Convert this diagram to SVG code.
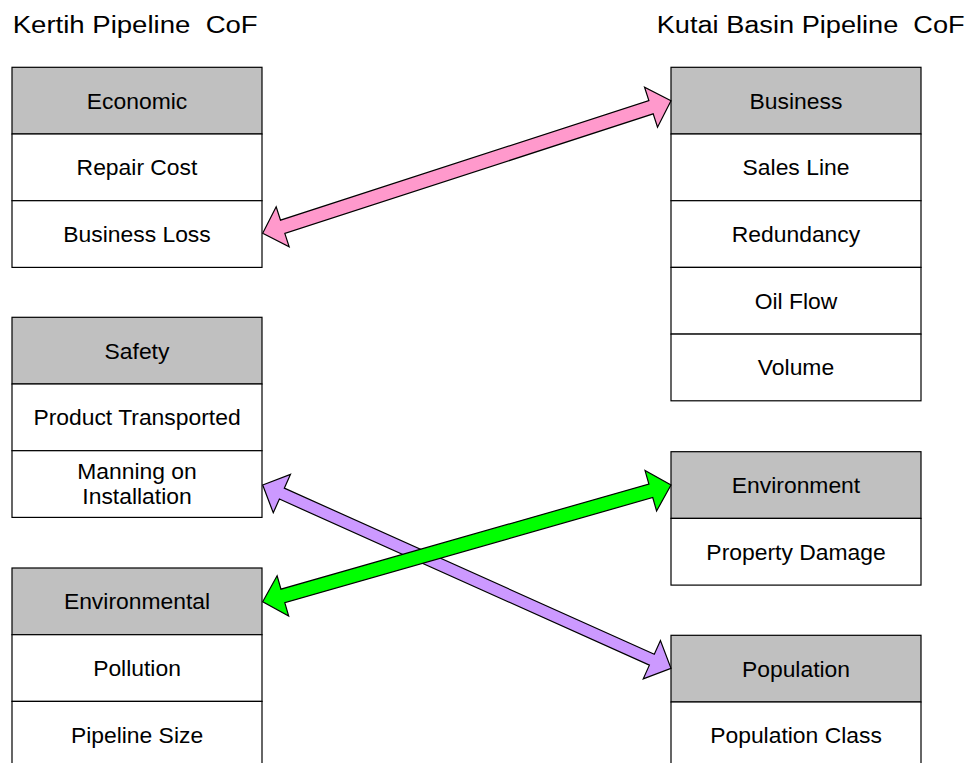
<svg xmlns="http://www.w3.org/2000/svg" width="974" height="763" viewBox="0 0 974 763">
  <style>
    text { font-family: "Liberation Sans", Arial, sans-serif; fill: #000; }
    .title { font-size: 23px; white-space: pre; }
    .cell { font-size: 22px; text-anchor: middle; }
    .hdr { fill: #c0c0c0; stroke: #000; stroke-width: 1.2; }
    .row { fill: #fff; stroke: #000; stroke-width: 1.2; }
    .arrow { stroke: #000; stroke-width: 1.2; stroke-linejoin: miter; }
  </style>
  <rect width="974" height="763" fill="#fff"/>

  <!-- column titles -->
  <text class="title" x="12.7" y="33" textLength="245" lengthAdjust="spacingAndGlyphs" xml:space="preserve">Kertih Pipeline  CoF</text>
  <text class="title" x="656.7" y="33" textLength="308" lengthAdjust="spacingAndGlyphs" xml:space="preserve">Kutai Basin Pipeline  CoF</text>

  <!-- Kertih categories -->
  <g id="economic">
    <rect class="hdr" x="12" y="67.3" width="250" height="66.7"/>
    <rect class="row" x="12" y="134" width="250" height="66.7"/>
    <rect class="row" x="12" y="200.7" width="250" height="66.7"/>
    <text class="cell" transform="translate(137,108.5) scale(1.04,1)">Economic</text>
    <text class="cell" transform="translate(137,175.2) scale(1.04,1)">Repair Cost</text>
    <text class="cell" transform="translate(137,241.9) scale(1.04,1)">Business Loss</text>
  </g>

  <g id="safety">
    <rect class="hdr" x="12" y="317.3" width="250" height="66.7"/>
    <rect class="row" x="12" y="384" width="250" height="66.7"/>
    <rect class="row" x="12" y="450.7" width="250" height="66.7"/>
    <text class="cell" transform="translate(137,358.5) scale(1.04,1)">Safety</text>
    <text class="cell" transform="translate(137,425.2) scale(1.04,1)">Product Transported</text>
    <text class="cell" transform="translate(137,479) scale(1.04,1)">Manning on</text>
    <text class="cell" transform="translate(137,503.5) scale(1.04,1)">Installation</text>
  </g>

  <g id="environmental">
    <rect class="hdr" x="12" y="568" width="250" height="66.7"/>
    <rect class="row" x="12" y="634.7" width="250" height="66.7"/>
    <rect class="row" x="12" y="701.4" width="250" height="66.7"/>
    <text class="cell" transform="translate(137,609.2) scale(1.04,1)">Environmental</text>
    <text class="cell" transform="translate(137,675.9) scale(1.04,1)">Pollution</text>
    <text class="cell" transform="translate(137,742.6) scale(1.04,1)">Pipeline Size</text>
  </g>

  <!-- Kutai Basin categories -->
  <g id="business">
    <rect class="hdr" x="671" y="67.3" width="250" height="66.7"/>
    <rect class="row" x="671" y="134" width="250" height="66.7"/>
    <rect class="row" x="671" y="200.7" width="250" height="66.7"/>
    <rect class="row" x="671" y="267.4" width="250" height="66.7"/>
    <rect class="row" x="671" y="334.1" width="250" height="66.7"/>
    <text class="cell" transform="translate(796,108.5) scale(1.04,1)">Business</text>
    <text class="cell" transform="translate(796,175.2) scale(1.04,1)">Sales Line</text>
    <text class="cell" transform="translate(796,241.9) scale(1.04,1)">Redundancy</text>
    <text class="cell" transform="translate(796,308.6) scale(1.04,1)">Oil Flow</text>
    <text class="cell" transform="translate(796,375.3) scale(1.04,1)">Volume</text>
  </g>

  <g id="environment">
    <rect class="hdr" x="671" y="451.7" width="250" height="66.7"/>
    <rect class="row" x="671" y="518.4" width="250" height="66.7"/>
    <text class="cell" transform="translate(796,492.9) scale(1.04,1)">Environment</text>
    <text class="cell" transform="translate(796,559.6) scale(1.04,1)">Property Damage</text>
  </g>

  <g id="population">
    <rect class="hdr" x="671" y="635.3" width="250" height="66.7"/>
    <rect class="row" x="671" y="702" width="250" height="66.7"/>
    <text class="cell" transform="translate(796,676.5) scale(1.04,1)">Population</text>
    <text class="cell" transform="translate(796,743.2) scale(1.04,1)">Population Class</text>
  </g>

  <!-- two-way links between the category sets -->
  <g id="connectors">
    <polygon class="arrow" fill="#ff99cc" points="262.7,233.3 276.18,206.84 280.51,220.15 648.87,100.53 644.54,87.22 671,100.7 657.52,127.16 653.19,113.85 284.83,233.47 289.16,246.78"/>
    <polygon class="arrow" fill="#cc99ff" points="262.7,485 290.46,474.44 284.32,488.13 654.3,654.23 660.44,640.54 671,668.3 643.24,678.86 649.38,665.17 279.4,499.07 273.26,512.76"/>
    <polygon class="arrow" fill="#00ff00" points="262.7,601.7 277.12,575.74 280.97,589.2 648.89,484.04 645.04,470.58 671,485 656.58,510.96 652.73,497.5 284.81,602.66 288.66,616.12"/>
  </g>
</svg>
